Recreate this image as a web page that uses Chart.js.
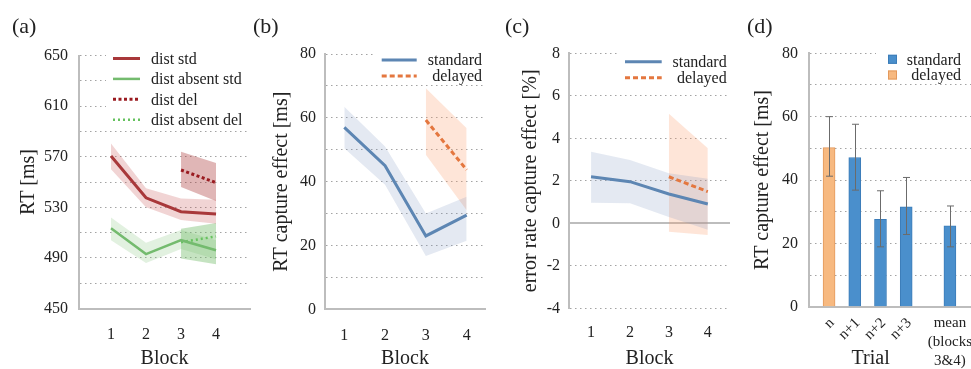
<!DOCTYPE html>
<html>
<head>
<meta charset="utf-8">
<script src="https://cdn.jsdelivr.net/npm/chart.js@4.4.1/dist/chart.umd.min.js"></script>
<style>
  html, body { margin: 0; padding: 0; background: #fff; }
  #wrap { position: relative; width: 971px; height: 369px; overflow: hidden; }
  canvas { position: absolute; top: 0; }
  .tag { position: absolute; top: 15px; font: 22px/22px "Liberation Serif", serif; color: #222; }
</style>
</head>
<body>
<div id="wrap">
  <canvas id="chartA" width="252" height="369" style="left:0px"></canvas>
  <canvas id="chartB" width="238" height="369" style="left:252px"></canvas>
  <canvas id="chartC" width="245" height="369" style="left:490px"></canvas>
  <canvas id="chartD" width="236" height="369" style="left:735px"></canvas>
  <div class="tag" style="left:12px">(a)</div>
  <div class="tag" style="left:253px">(b)</div>
  <div class="tag" style="left:505px">(c)</div>
  <div class="tag" style="left:747px">(d)</div>
</div>
<script>
const serif = '"Liberation Serif", "Times New Roman", serif';
const ink = '#222222';
const dotGrid = '#a3a3a3';
const axisGray = '#bdbdbd';

// shared x values
const blocks = [1, 2, 3, 4];
const delBlocks = [3, 4];

// (a) RT per block
const distStd = [570.5, 537.5, 526.5, 524.7];
const distStdHi = [580.5, 545, 537, 536];
const distStdLo = [560, 530, 520, 517];
const absentStd = [513.4, 493, 504, 496];
const absentStdHi = [522, 502, 512, 504];
const absentStdLo = [504, 486, 497, 489];
const distDel = [559.5, 549.5];
const distDelHi = [574, 565];
const distDelLo = [546, 535];
const absentDel = [502.4, 507];
const absentDelHi = [513, 517.5];
const absentDelLo = [489.5, 485];

// (b) RT capture effect
const capStd = [57, 45, 23, 29.5];
const capStdHi = [63.5, 51, 30, 35.3];
const capStdLo = [50.5, 39, 16.7, 21.5];
const capDel = [59.3, 43.7];
const capDelHi = [69.3, 56.7];
const capDelLo = [48.4, 31];

// (c) error rate capture effect
const errStd = [2.19, 1.96, 1.38, 0.91];
const errStdHi = [3.37, 2.98, 2.35, 2.1];
const errStdLo = [0.97, 0.94, 0.3, -0.3];
const errDel = [2.19, 1.49];
const errDelHi = [5.15, 3.53];
const errDelLo = [-0.4, -0.55];

// (d) capture effect per trial
const trialLabels = ['n', 'n+1', 'n+2', 'n+3', ['mean', '(blocks', '3&4)']];
const trialX = [1, 2, 3, 4, 5.7];
const trialGroup = ['delayed', 'standard', 'standard', 'standard', 'standard'];
const trialMean = [50.2, 47.1, 27.6, 31.5, 25.5];
const trialLow = [41.2, 36.8, 18.9, 22.8, 18.9];
const trialHigh = [60, 57.6, 36.6, 40.8, 31.8];

const pts = (xs, ys) => xs.map((x, i) => ({ x: x, y: ys[i] }));

function line(label, xs, ys, color, width, dash) {
  return { label: label, data: pts(xs, ys), borderColor: color, borderWidth: width,
           borderDash: dash || [], pointRadius: 0, fill: false, order: 1 };
}

function band(xs, hi, lo, color) {
  return [
    { data: pts(xs, hi), borderColor: 'rgba(0,0,0,0)', pointRadius: 0, backgroundColor: color, fill: '+1', order: 2 },
    { data: pts(xs, lo), borderColor: 'rgba(0,0,0,0)', pointRadius: 0, fill: false, order: 2 }
  ];
}

function yScale(o) {
  return {
    min: o.min,
    max: o.max,
    ticks: {
      stepSize: o.step, padding: o.pad, color: ink, autoSkip: false,
      font: { family: serif, size: 16 },
      callback: v => ((v - o.min) % o.every === 0 ? String(v) : '')
    },
    grid: { color: dotGrid, lineWidth: 1, drawTicks: false },
    border: { color: axisGray, width: 2, dash: [1.5, 3.5] },
    title: { display: true, text: o.title, color: ink, padding: 0,
             font: { family: serif, size: o.titleSize || 20, lineHeight: 1 } },
    afterFit: s => { s.width = o.width; }
  };
}

function xScale(g) {
  return {
    type: 'linear',
    min: g.xMin,
    max: g.xMax,
    afterBuildTicks: s => { s.ticks = blocks.map(v => ({ value: v })); },
    ticks: { padding: g.xPad, color: ink, maxRotation: 0, autoSkip: false, font: { family: serif, size: 16 } },
    grid: { display: false },
    border: { display: g.xBorder, color: axisGray, width: 2 },
    title: { display: true, text: 'Block', color: ink, padding: 0, font: { family: serif, size: 20, lineHeight: 1 } },
    afterFit: s => { s.height = 369 - g.bottom; }
  };
}

// legend drawn inside the plot, over a white patch (like the original)
function insetLegend(cfg) {
  return {
    id: 'insetLegend',
    afterDraw(chart) {
      const ctx = chart.ctx;
      ctx.save();
      ctx.fillStyle = '#ffffff';
      ctx.fillRect(cfg.clear[0], cfg.clear[1], cfg.clear[2], cfg.clear[3]);
      ctx.font = '16px ' + serif;
      ctx.textBaseline = 'middle';
      ctx.textAlign = cfg.align;
      chart.data.datasets.filter(d => d.label).forEach((d, i) => {
        const yy = cfg.y + i * cfg.dy;
        if (chart.config.type === 'bar') {
          ctx.fillStyle = d.backgroundColor;
          ctx.fillRect(cfg.x1, yy - 4.5, 9, 9);
          ctx.strokeStyle = d.borderColor;
          ctx.lineWidth = 1;
          ctx.strokeRect(cfg.x1 + 0.5, yy - 4, 8, 8);
        } else {
          ctx.strokeStyle = d.borderColor;
          ctx.lineWidth = d.borderWidth;
          ctx.setLineDash(d.borderDash || []);
          ctx.beginPath();
          ctx.moveTo(cfg.x1, yy);
          ctx.lineTo(cfg.x2, yy);
          ctx.stroke();
          ctx.setLineDash([]);
        }
        ctx.fillStyle = ink;
        ctx.fillText(d.label, cfg.tx, yy + 1);
      });
      ctx.restore();
    }
  };
}

const zeroLine = {
  id: 'zeroLine',
  beforeDatasetsDraw(chart) {
    const { ctx, chartArea, scales: { y } } = chart;
    const py = Math.round(y.getPixelForValue(0));
    ctx.save();
    ctx.strokeStyle = axisGray;
    ctx.lineWidth = 2;
    ctx.beginPath();
    ctx.moveTo(chartArea.left, py);
    ctx.lineTo(chartArea.right, py);
    ctx.stroke();
    ctx.restore();
  }
};

function lineChart(id, g, ys, datasets, plugins) {
  return new Chart(document.getElementById(id), {
    type: 'line',
    data: { datasets: datasets },
    options: {
      responsive: false,
      animation: false,
      events: [],
      layout: { padding: { left: g.padL, right: g.padR, top: g.top, bottom: 0 } },
      scales: { x: xScale(g), y: yScale(ys) },
      plugins: { legend: { display: false }, tooltip: { enabled: false } }
    },
    plugins: plugins
  });
}

const red = '#a8383a', redDot = '#9a1b20', green = '#74bb6e', greenDot = '#66c25e';
const blue = '#5d86b3', orange = '#e4773f';

lineChart('chartA',
  { padL: 19, padR: 2, top: 55.5, bottom: 308.5, xMin: 0.086, xMax: 4.97, xPad: 9, xBorder: true },
  { min: 450, max: 650, step: 20, every: 40, pad: 11, width: 60, title: 'RT [ms]' },
  [
    line('dist std', blocks, distStd, red, 3),
    line('dist absent std', blocks, absentStd, green, 2.5),
    line('dist del', delBlocks, distDel, redDot, 3, [3, 2.5]),
    line('dist absent del', delBlocks, absentDel, greenDot, 2.5, [2, 3]),
    ...band(blocks, distStdHi, distStdLo, 'rgba(190,60,60,0.22)'),
    ...band(blocks, absentStdHi, absentStdLo, 'rgba(110,185,100,0.2)'),
    ...band(delBlocks, distDelHi, distDelLo, 'rgba(165,45,45,0.35)'),
    ...band(delBlocks, absentDelHi, absentDelLo, 'rgba(110,185,100,0.4)')
  ],
  [insetLegend({ clear: [106, 44, 146, 82], x1: 113, x2: 140, tx: 151, align: 'left', y: 58.5, dy: 20.4 })]
);

lineChart('chartB',
  { padL: 19.7, padR: 5, top: 54, bottom: 309.3, xMin: 0.527, xMax: 4.45, xPad: 9, xBorder: true },
  { min: 0, max: 80, step: 10, every: 20, pad: 9, width: 53.3, title: 'RT capture effect [ms]' },
  [
    line('standard', blocks, capStd, blue, 3),
    line('delayed', delBlocks, capDel, orange, 3, [5, 3]),
    ...band(blocks, capStdHi, capStdLo, 'rgba(120,145,190,0.2)'),
    ...band(delBlocks, capDelHi, capDelLo, 'rgba(250,150,100,0.25)')
  ],
  [insetLegend({ clear: [121, 43, 112, 38], x1: 129.7, x2: 164.7, tx: 230, align: 'right', y: 60, dy: 16 })]
);

lineChart('chartC',
  { padL: 30.5, padR: 5, top: 53.3, bottom: 308.3, xMin: 0.434, xMax: 4.57, xPad: 7, xBorder: false },
  { min: -4, max: 8, step: 2, every: 2, pad: 9, width: 48.5, title: 'error rate capture effect [%]' },
  [
    line('standard', blocks, errStd, blue, 3),
    line('delayed', delBlocks, errDel, orange, 3, [5, 3]),
    ...band(blocks, errStdHi, errStdLo, 'rgba(120,145,190,0.2)'),
    ...band(delBlocks, errDelHi, errDelLo, 'rgba(250,150,100,0.25)')
  ],
  [zeroLine, insetLegend({ clear: [127, 43, 113, 40], x1: 135, x2: 171.7, tx: 236.7, align: 'right', y: 61.7, dy: 16 })]
);

// error bars + custom trial labels for (d)
const trialDecor = {
  id: 'trialDecor',
  afterDatasetsDraw(chart) {
    const { ctx, scales: { x, y } } = chart;
    ctx.save();
    ctx.strokeStyle = '#6b6b6b';
    ctx.lineWidth = 1;
    trialX.forEach((tx, i) => {
      const px = Math.round(x.getPixelForValue(tx)) + 0.5;
      const top = y.getPixelForValue(trialHigh[i]);
      const bot = y.getPixelForValue(trialLow[i]);
      ctx.beginPath();
      ctx.moveTo(px, top); ctx.lineTo(px, bot);
      ctx.moveTo(px - 3.5, top); ctx.lineTo(px + 3.5, top);
      ctx.moveTo(px - 3.5, bot); ctx.lineTo(px + 3.5, bot);
      ctx.stroke();
    });
    ctx.restore();
  },
  afterDraw(chart) {
    const { ctx, chartArea, scales: { x } } = chart;
    ctx.save();
    ctx.fillStyle = ink;
    ctx.font = '15px ' + serif;
    ctx.textBaseline = 'middle';
    trialLabels.forEach((lab, i) => {
      const px = x.getPixelForValue(trialX[i]);
      if (Array.isArray(lab)) {
        ctx.textAlign = 'center';
        lab.forEach((t, j) => ctx.fillText(t, px, chartArea.bottom + 16.5 + j * 19));
      } else {
        ctx.save();
        ctx.translate(px + 3, chartArea.bottom + 14);
        ctx.rotate(-Math.PI / 4);
        ctx.textAlign = 'right';
        ctx.fillText(lab, 0, 0);
        ctx.restore();
      }
    });
    ctx.font = '20px ' + serif;
    ctx.textAlign = 'center';
    ctx.fillText('Trial', x.getPixelForValue(2.5) + 3, 359);
    ctx.restore();
  }
};

const barBlue = '#4a8fcc', barBlueEdge = '#3b7cb8';
const barOrange = '#f7b980', barOrangeEdge = '#e3995c';

function trialBars(group) {
  return trialX.map((tx, i) => ({ x: tx, y: trialMean[i] })).filter((p, i) => trialGroup[i] === group);
}

new Chart(document.getElementById('chartD'), {
  type: 'bar',
  data: {
    datasets: [
      { label: 'standard', data: trialBars('standard'), backgroundColor: barBlue, borderColor: barBlueEdge,
        borderWidth: 1, barThickness: 12, grouped: false },
      { label: 'delayed', data: trialBars('delayed'), backgroundColor: barOrange, borderColor: barOrangeEdge,
        borderWidth: 1, barThickness: 12, grouped: false }
    ]
  },
  options: {
    responsive: false,
    animation: false,
    events: [],
    layout: { padding: { left: 18, right: 0, top: 53.3, bottom: 0 } },
    scales: {
      x: {
        type: 'linear', min: 0.22, max: 6.52, offset: false,
        ticks: { display: false },
        grid: { display: false },
        border: { color: axisGray, width: 2 },
        afterFit: s => { s.height = 369 - 306.7; }
      },
      y: yScale({ min: 0, max: 80, step: 10, every: 20, pad: 11, width: 56, title: 'RT capture effect [ms]' })
    },
    plugins: { legend: { display: false }, tooltip: { enabled: false } }
  },
  plugins: [trialDecor, insetLegend({ clear: [141, 43, 95, 40], x1: 153, x2: 162, tx: 226, align: 'right', y: 59.3, dy: 15.7 })]
});
</script>
</body>
</html>
